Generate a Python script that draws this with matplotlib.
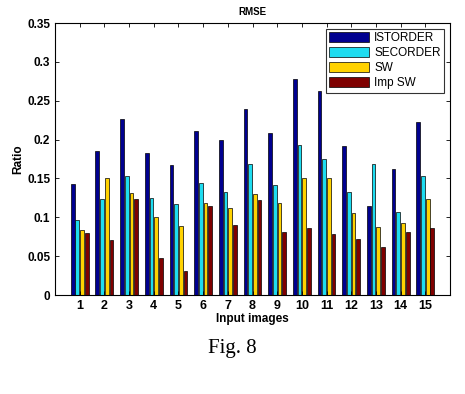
#!/usr/bin/env python3
import matplotlib
matplotlib.use('Agg')
import matplotlib.pyplot as plt
import numpy as np

# data
images = list(range(1, 16))
istorder = [0.143, 0.185, 0.227, 0.183, 0.167, 0.211, 0.199, 0.239, 0.209, 0.278, 0.263, 0.192, 0.114, 0.162, 0.223]
secorder = [0.096, 0.124, 0.153, 0.125, 0.117, 0.144, 0.133, 0.168, 0.142, 0.193, 0.175, 0.133, 0.168, 0.107, 0.153]
sw = [0.083, 0.151, 0.131, 0.101, 0.089, 0.118, 0.112, 0.130, 0.118, 0.151, 0.151, 0.106, 0.088, 0.093, 0.123]
imp_sw = [0.080, 0.071, 0.124, 0.048, 0.031, 0.115, 0.090, 0.122, 0.081, 0.086, 0.079, 0.072, 0.062, 0.081, 0.086]
labels = ['ISTORDER', 'SECORDER', 'SW', 'Imp SW']
colors = ['#00008F', '#1EDCF0', '#FFD200', '#7F0000']

plt.rcParams['font.family'] = ['Liberation Sans', 'DejaVu Sans']

fig = plt.figure(figsize=(4.65, 3.94), dpi=100)
ax = fig.add_axes([55 / 465, 1 - 295 / 394, 395 / 465, 272 / 394])

#Grouped bars
x = np.array(images)
series = [istorder, secorder, sw, imp_sw]
slot = 0.19
for i, (vals, lab, col) in enumerate(zip(series, labels, colors)):
	ax.bar(x + (i - 1.5) * slot, vals, width=slot * 0.8, color=col,
		edgecolor='black', linewidth=0.5, label=lab)

#Axis configuration
ax.set_xlim(0, 16)
ax.set_ylim(0, 0.35)
ax.set_xticks(x)
ax.set_xticklabels([str(i) for i in images], fontsize=9, fontweight='bold')
yt = [0, 0.05, 0.1, 0.15, 0.2, 0.25, 0.3, 0.35]
ax.set_yticks(yt)
ax.set_yticklabels(['0', '0.05', '0.1', '0.15', '0.2', '0.25', '0.3', '0.35'], fontsize=8.5, fontweight='bold')
ax.tick_params(direction='in', top=True, right=True, length=3, width=0.6)
ax.set_xlabel('Input images', fontsize=8.5, fontweight='bold', labelpad=1)
ax.set_ylabel('Ratio', fontsize=8.5, fontweight='bold', labelpad=2)
ax.set_title('RMSE', fontsize=7, fontweight='bold', pad=6)

leg = ax.legend(loc='upper right', fontsize=8.5, frameon=True, fancybox=False,
	edgecolor='black', borderaxespad=0.5, handlelength=3.4, handleheight=0.9,
	labelspacing=0.25, borderpad=0.3, handletextpad=0.4)
leg.get_frame().set_linewidth(0.8)

fig.text(0.5, 1 - 349 / 394, 'Fig. 8', ha='center', va='center',
	fontsize=15, family='Liberation Serif')

fig.savefig('out.png', dpi=100)
